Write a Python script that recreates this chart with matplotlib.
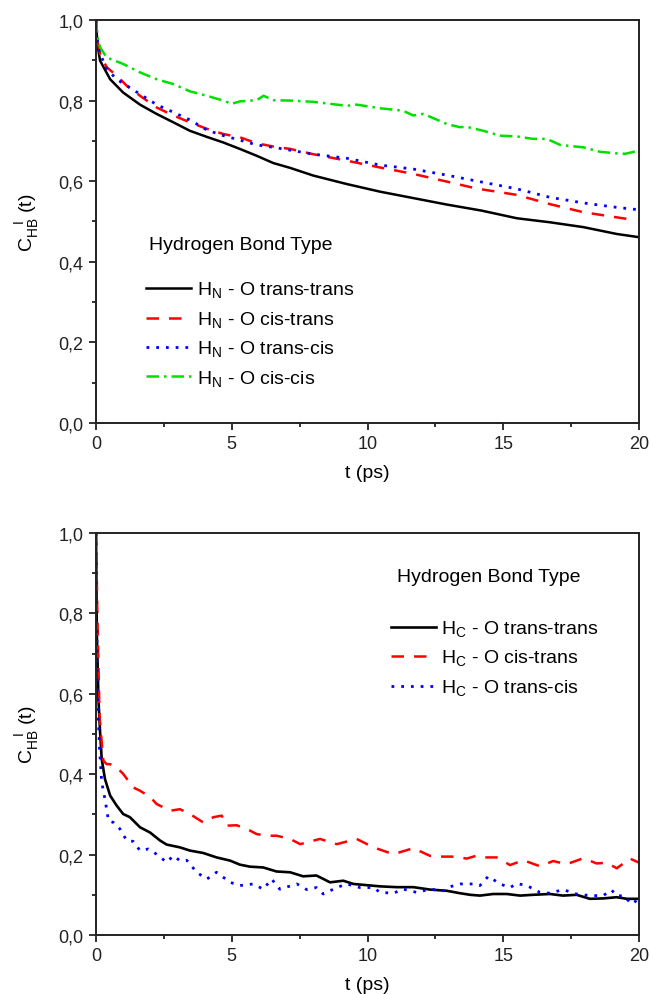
import matplotlib
matplotlib.use("Agg")
import matplotlib.pyplot as plt
from matplotlib.ticker import MultipleLocator, FuncFormatter

plt.rcParams['font.family'] = ['Liberation Sans', 'DejaVu Sans']
plt.rcParams['mathtext.fontset'] = 'custom'
plt.rcParams['mathtext.rm'] = 'Liberation Sans'

# top panel: H_N - O bonds
t_hn_tt = [0, 0.05, 0.15, 0.52, 1.0, 1.62, 2.23, 2.85, 3.46, 4.08, 4.69, 5.3, 5.92, 6.53, 7.15,
           8.0, 9.23, 10.46, 11.69, 12.92, 14.2, 15.5, 16.72, 17.95, 19.18, 20]
hn_tt = [1.0, 0.94, 0.899, 0.853, 0.82, 0.79, 0.767, 0.746, 0.725, 0.71, 0.696, 0.68, 0.663, 0.645,
         0.633, 0.614, 0.593, 0.574, 0.558, 0.542, 0.527, 0.508, 0.498, 0.486, 0.469, 0.461]
t_hn_ct = [0, 0.05, 0.15, 0.39, 0.76, 1.13, 1.37, 1.62, 2.23, 2.85, 3.46, 4.08, 4.69, 5.3, 5.92,
           6.53, 7.15, 8.0, 9.23, 10.46, 11.69, 12.92, 14.0, 15.5, 16.72, 17.95, 19.6]
hn_ct = [1.0, 0.95, 0.916, 0.883, 0.862, 0.837, 0.825, 0.812, 0.783, 0.763, 0.746, 0.73, 0.717,
         0.709, 0.694, 0.686, 0.68, 0.667, 0.651, 0.634, 0.618, 0.599, 0.582, 0.566, 0.543, 0.523,
         0.506]
t_hn_tc = [0, 0.05, 0.15, 0.39, 0.76, 1.13, 1.62, 2.23, 2.85, 3.46, 4.08, 4.69, 5.3, 5.92, 6.53,
           7.15, 8.0, 9.23, 10.46, 11.69, 12.92, 14.2, 15.5, 16.72, 17.95, 19.18, 20]
hn_tc = [1.0, 0.95, 0.916, 0.879, 0.853, 0.837, 0.816, 0.79, 0.771, 0.752, 0.727, 0.713, 0.702,
         0.69, 0.684, 0.677, 0.667, 0.657, 0.64, 0.63, 0.615, 0.598, 0.581, 0.56, 0.546, 0.535,
         0.529]
t_hn_cc = [0, 0.05, 0.15, 0.39, 1.0, 1.62, 2.23, 2.85, 3.46, 4.08, 4.69, 5.0, 5.3, 5.92, 6.17,
           6.53, 7.15, 8.0, 9.23, 9.6, 10.46, 11.3, 11.69, 12.06, 12.92, 13.4, 13.65, 14.27,
           14.88, 15.5, 16.1, 16.6, 17.1, 17.95, 18.56, 19.18, 19.5, 20]
hn_cc = [1.0, 0.96, 0.932, 0.907, 0.891, 0.87, 0.853, 0.841, 0.823, 0.812, 0.80, 0.792, 0.798,
         0.801, 0.812, 0.801, 0.80, 0.797, 0.787, 0.79, 0.781, 0.775, 0.763, 0.767, 0.742, 0.734,
         0.735, 0.725, 0.713, 0.711, 0.705, 0.705, 0.69, 0.684, 0.673, 0.669, 0.668, 0.676]

# bottom panel: H_C - O bonds
t_hc_tt = [0, 0.03, 0.09, 0.15, 0.21, 0.33, 0.52, 0.76, 1.0, 1.25, 1.62, 1.99, 2.36, 2.6, 3.09,
           3.46, 3.95, 4.44, 4.94, 5.3, 5.67, 6.16, 6.65, 7.15, 7.63, 8.12, 8.62, 9.11, 9.48,
           9.97, 10.46, 11.07, 11.69, 12.3, 12.92, 13.4, 13.78, 14.14, 14.63, 15.13, 15.62,
           16.1, 16.72, 17.2, 17.7, 18.19, 18.68, 19.18, 19.55, 20]
hc_tt = [1.0, 0.75, 0.587, 0.505, 0.438, 0.388, 0.347, 0.322, 0.301, 0.293, 0.268, 0.255, 0.235,
         0.225, 0.218, 0.21, 0.204, 0.193, 0.185, 0.175, 0.17, 0.168, 0.158, 0.156, 0.146, 0.148,
         0.131, 0.135, 0.127, 0.124, 0.121, 0.119, 0.119, 0.113, 0.11, 0.104, 0.1, 0.098, 0.102,
         0.102, 0.098, 0.1, 0.102, 0.098, 0.1, 0.09, 0.091, 0.094, 0.09, 0.09]
t_hc_ct = [0, 0.05, 0.13, 0.21, 0.27, 0.39, 0.52, 0.76, 1.0, 1.37, 1.62, 2.0, 2.23, 2.73, 3.09,
           3.46, 3.95, 4.32, 4.63, 4.81, 5.18, 5.55, 5.92, 6.29, 6.65, 7.15, 7.52, 8.25, 8.87,
           9.6, 10.22, 10.95, 11.69, 12.3, 12.67, 13.28, 13.65, 14.0, 14.27, 14.76, 15.25,
           15.74, 16.35, 16.84, 17.33, 17.95, 18.44, 18.8, 19.18, 19.67, 20]
hc_ct = [1.0, 0.8, 0.546, 0.479, 0.434, 0.425, 0.425, 0.417, 0.401, 0.367, 0.359, 0.343, 0.326,
         0.309, 0.313, 0.301, 0.28, 0.293, 0.297, 0.272, 0.273, 0.264, 0.251, 0.247, 0.247, 0.239,
         0.226, 0.239, 0.226, 0.239, 0.218, 0.201, 0.216, 0.197, 0.195, 0.195, 0.19, 0.197, 0.193,
         0.193, 0.174, 0.186, 0.171, 0.184, 0.176, 0.191, 0.178, 0.18, 0.166, 0.19, 0.18]
t_hc_tc = [0, 0.05, 0.13, 0.21, 0.33, 0.46, 0.64, 0.88, 1.13, 1.37, 1.62, 1.93, 2.23, 2.6, 2.85,
           3.09, 3.34, 3.71, 4.08, 4.44, 4.94, 5.3, 5.79, 6.16, 6.47, 6.77, 7.4, 7.76, 8.12,
           8.37, 8.87, 9.23, 9.72, 10.22, 10.46, 10.95, 11.32, 11.81, 12.3, 12.79, 13.04, 13.41,
           13.9, 14.14, 14.45, 14.88, 15.25, 15.5, 15.87, 16.35, 16.72, 17.2, 17.7, 18.19,
           18.68, 18.99, 19.18, 19.43, 19.73, 20]
hc_tc = [1.0, 0.6, 0.463, 0.38, 0.338, 0.284, 0.28, 0.264, 0.235, 0.233, 0.21, 0.214, 0.201,
         0.181, 0.197, 0.185, 0.186, 0.156, 0.139, 0.156, 0.131, 0.123, 0.127, 0.114, 0.139,
         0.114, 0.127, 0.113, 0.118, 0.102, 0.118, 0.127, 0.118, 0.118, 0.106, 0.104, 0.114,
         0.106, 0.114, 0.11, 0.12, 0.127, 0.127, 0.123, 0.146, 0.127, 0.118, 0.128, 0.123, 0.106,
         0.104, 0.113, 0.102, 0.098, 0.098, 0.112, 0.097, 0.098, 0.077, 0.09]

legend_title = 'Hydrogen Bond Type'

fig = plt.figure(figsize=(6.5, 9.95), dpi=100)
ax1 = fig.add_axes([0.1477, 0.5739, 0.8354, 0.405])
ax2 = fig.add_axes([0.1477, 0.0593, 0.8354, 0.404])

red_dash = (0, (5, 4))
blue_dot = (0, (1, 2.5))
green_dd = (0, (5, 2, 1, 2))
green = '#00e000'

ax1.plot(t_hn_tt, hn_tt, color='black', lw=1.8, label=r'H$_\mathregular{N}$ - O trans-trans')
ax1.plot(t_hn_ct, hn_ct, color='red', lw=1.8, ls=red_dash, label=r'H$_\mathregular{N}$ - O cis-trans')
ax1.plot(t_hn_tc, hn_tc, color='blue', lw=2.0, ls=blue_dot, label=r'H$_\mathregular{N}$ - O trans-cis')
ax1.plot(t_hn_cc, hn_cc, color=green, lw=1.8, ls=green_dd, label=r'H$_\mathregular{N}$ - O cis-cis')

ax2.plot(t_hc_tt, hc_tt, color='black', lw=1.9, label=r'H$_\mathregular{C}$ - O trans-trans')
ax2.plot(t_hc_ct, hc_ct, color='red', lw=1.8, ls=red_dash, label=r'H$_\mathregular{C}$ - O cis-trans')
ax2.plot(t_hc_tc, hc_tc, color='blue', lw=2.0, ls=blue_dot, label=r'H$_\mathregular{C}$ - O trans-cis')

comma = FuncFormatter(lambda v, p: f'{v:.1f}'.replace('.', ','))

for ax in (ax1, ax2):
    ax.set_xlim(0, 20)
    ax.set_ylim(0, 1.0)
    ax.xaxis.set_major_locator(MultipleLocator(5))
    ax.xaxis.set_minor_locator(MultipleLocator(2.5))
    ax.yaxis.set_major_locator(MultipleLocator(0.2))
    ax.yaxis.set_minor_locator(MultipleLocator(0.1))
    ax.yaxis.set_major_formatter(comma)
    ax.tick_params(which='both', direction='out', top=False, right=False, labelsize=13,
                   width=1.3, colors='#222222')
    ax.tick_params(which='major', length=5, pad=4)
    ax.tick_params(which='minor', length=3)
    for s in ax.spines.values():
        s.set_linewidth(1.4)
        s.set_color('#222222')
    ax.set_xlabel('t (ps)', fontsize=14, labelpad=8)
    ax.set_ylabel(r'C$_\mathregular{HB}^{\mathregular{\quad I}}$ (t)', fontsize=14, labelpad=12)

# legends: title as text, entries through legend
ax1.text(0.098, 0.442, legend_title, transform=ax1.transAxes, fontsize=14, va='center', ha='left')
ax1.legend(loc='upper left', bbox_to_anchor=(0.092, 0.355), frameon=False, fontsize=14,
           borderpad=0, borderaxespad=0, handlelength=2.3, handletextpad=0.3, labelspacing=0.47)
ax2.text(0.554, 0.891, legend_title, transform=ax2.transAxes, fontsize=14, va='center', ha='left')
ax2.legend(loc='upper left', bbox_to_anchor=(0.543, 0.787), frameon=False, fontsize=14,
           borderpad=0, borderaxespad=0, handlelength=2.3, handletextpad=0.3, labelspacing=0.47)

fig.savefig('out.png', dpi=100)
